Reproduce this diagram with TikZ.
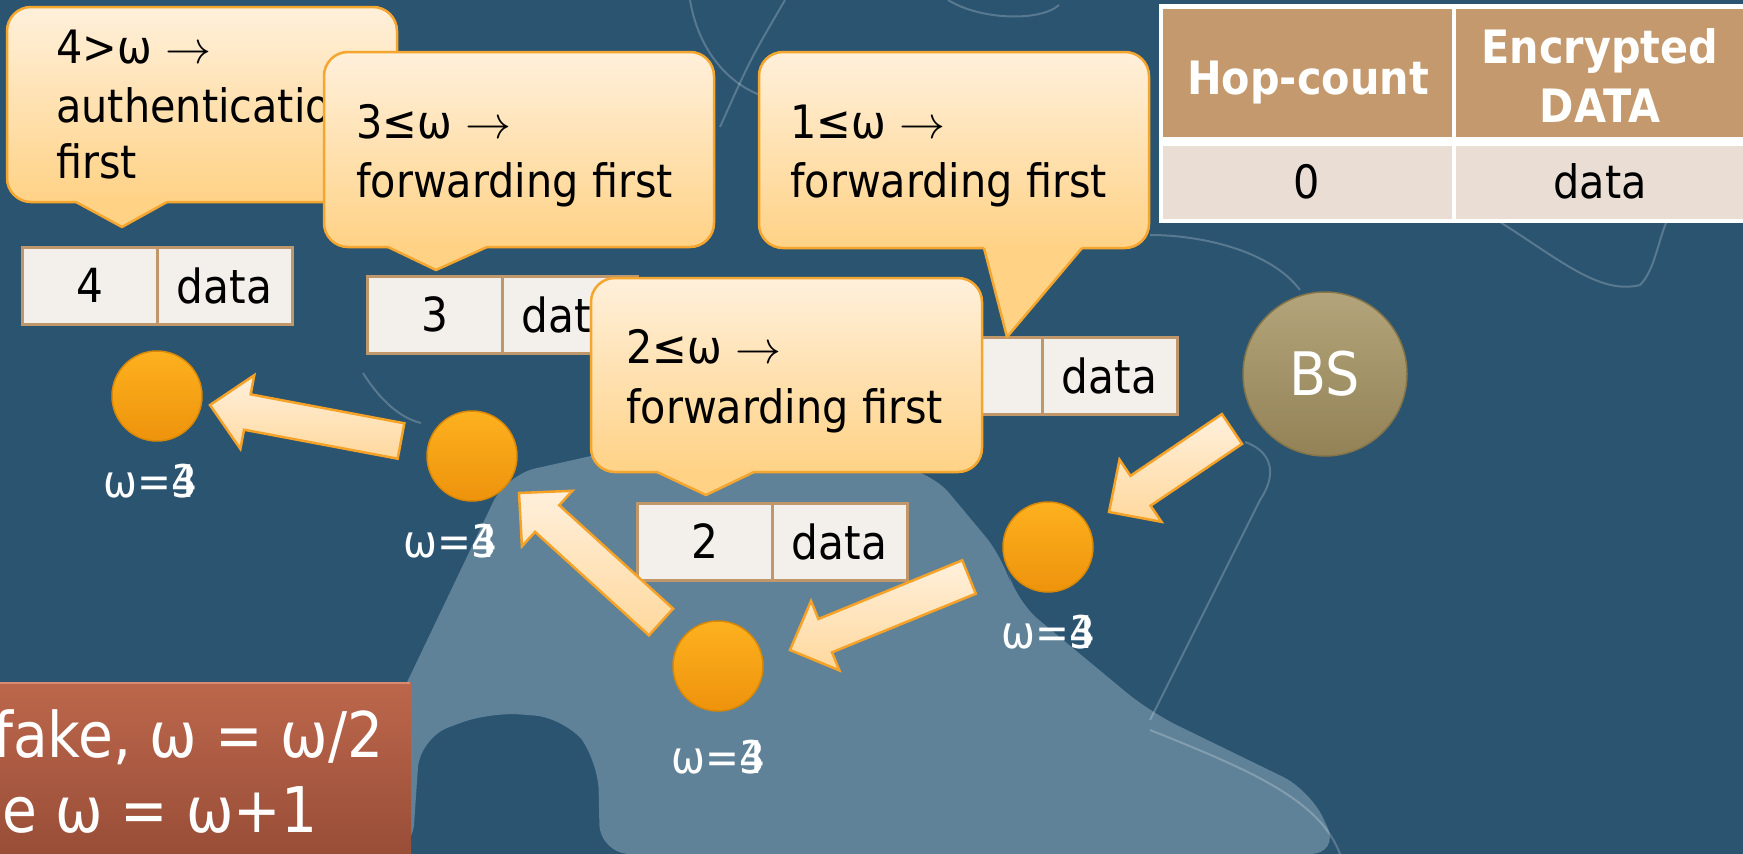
\RequirePackage{fix-cm}
\documentclass[tikz,border=0pt]{standalone}
\usepackage{fontspec}
\setmainfont{DejaVu Sans}[FakeStretch=0.9]
\usetikzlibrary{calc}
\definecolor{bgblue}{HTML}{2A5470}
\definecolor{piece}{HTML}{5F8298}
\definecolor{calltop}{HTML}{FFF0DB}
\definecolor{callbot}{HTML}{FFD286}
\definecolor{callline}{HTML}{F5A62F}
\definecolor{celltan}{HTML}{C0976B}
\definecolor{cellfill}{HTML}{F3EFEB}
\definecolor{headtan}{HTML}{C4996D}
\definecolor{rowfill}{HTML}{EADED4}
\definecolor{orangetop}{HTML}{FDB11F}
\definecolor{orangebot}{HTML}{EE930C}
\definecolor{orangeedge}{HTML}{D98806}
\definecolor{bstop}{HTML}{B3A47B}
\definecolor{bsbot}{HTML}{938256}
\definecolor{bsedge}{HTML}{857549}
\definecolor{redtop}{HTML}{BC674C}
\definecolor{redbot}{HTML}{974C36}
\definecolor{redlight}{HTML}{DA8A70}
\definecolor{arrowtop}{HTML}{FFF0DC}
\definecolor{arrowbot}{HTML}{FFD89D}
\definecolor{arrowline}{HTML}{F5A227}
\tikzset{
  calloutbox/.style={top color=calltop, bottom color=callbot, draw=callline, line width=2.5pt, rounded corners=24pt},
  ctext/.style={anchor=base west, inner sep=0pt, font=\fontsize{46}{55}\selectfont, text=black},
  cell/.style={draw=celltan, line width=3pt, fill=cellfill, minimum width=135pt, minimum height=77pt, inner sep=0pt, outer sep=0pt, anchor=north west, font=\fontsize{47}{56}\selectfont},
  sensor/.style={circle, minimum size=90pt, inner sep=0pt, top color=orangetop, bottom color=orangebot, draw=orangeedge, line width=1.5pt},
  bsnode/.style={circle, minimum size=164pt, inner sep=0pt, top color=bstop, bottom color=bsbot, draw=bsedge, line width=1.5pt, text=white, font=\fontsize{60}{70}\selectfont},
  lbl/.style={text=white, inner sep=0pt, font=\fontsize{45}{54}\selectfont},
  blockarrow/.style={top color=arrowtop, bottom color=arrowbot, draw=arrowline, line width=2.5pt, line join=miter},
  faint/.style={draw=white, draw opacity=0.22, line width=2pt},
  thead/.style={anchor=base, inner sep=0pt, text=white, font=\bfseries\fontsize{46}{55}\selectfont},
  tbody/.style={anchor=base, inner sep=0pt, text=black, font=\fontsize{46}{55}\selectfont},
  redtext/.style={anchor=base west, inner sep=0pt, text=white, font=\fontsize{63}{75}\selectfont},
}
\newcommand\mycallout[8]{%
  \path[calloutbox] (#1,#2) rectangle (#3,#4);
  \fill[callbot] (#5,#4-5) -- (#5,#4) -- (#6,#7) -- (#8,#4) -- (#8,#4-5) -- cycle;
  \draw[callline, line width=2.5pt, line join=round] (#5,#4) -- (#6,#7) -- (#8,#4);
}
\newcommand\blockarr[2]{%
  \coordinate (H) at ($(#2)!38pt!(#1)$);
  \path[blockarrow] ($(#1)!18pt!90:(#2)$) -- ($(H)!18pt!90:(#2)$) -- ($(H)!37.5pt!90:(#2)$) -- (#2)
    -- ($(H)!37.5pt!-90:(#2)$) -- ($(H)!18pt!-90:(#2)$) -- ($(#1)!18pt!-90:(#2)$) -- cycle;
}
\begin{document}
\begin{tikzpicture}[x=1pt,y=-1pt]
\useasboundingbox (0,0) rectangle (1743,854);
\clip (0,0) rectangle (1743,854);
% background
\fill[bgblue] (0,0) rectangle (1743,854);
\fill[piece, rounded corners=30pt] (325,854) -- (506,475) -- (640,445) -- (930,470) -- (1005,560)
  -- (1015,600) -- (1150,712) -- (1310,790) -- (1340,854) -- (600,854) -- (598,760) -- (565,718)
  -- (490,712) -- (420,738) -- (412,854) -- cycle;
\draw[faint] (720,127) .. controls (750,60) .. (785,0);
\draw[faint] (948,0) .. controls (980,20) and (1040,22) .. (1059,5);
\draw[faint] (690,0) .. controls (700,60) and (740,95) .. (780,100);
\draw[faint] (1500,222) .. controls (1560,260) and (1600,295) .. (1640,285) .. controls (1655,270) and (1658,240) .. (1668,218);
\draw[faint] (1150,235) .. controls (1200,235) and (1270,250) .. (1300,290);
\draw[faint] (1245,442) .. controls (1268,450) and (1280,470) .. (1260,500) -- (1150,720);
\draw[faint] (1150,730) .. controls (1250,770) and (1320,800) .. (1340,854);
\draw[faint] (363,373) .. controls (380,400) and (400,418) .. (421,423);
% packets
\node[cell] (p4n) at (22,247) {4};
\node[cell] (p4d) at (157,247) {data};
\node[cell] (p3n) at (367,276) {3};
\node[cell] (p3d) at (502,276) {data};
\node[cell] (p1n) at (907,337) {};
\node[cell] (p1d) at (1042,337) {data};
\node[cell] (p2n) at (637,503) {2};
\node[cell] (p2d) at (772,503) {data};
% callouts
\mycallout{7}{7}{397}{202}{76}{122}{227}{167}
\node[ctext] (cA1) at (56,63) {4>ω $\rightarrow$};
\node[ctext] (cA2) at (56,122) {authentication};
\node[ctext] (cA3) at (56,178) {first};
\mycallout{324}{52}{714}{247}{388}{436}{270}{487}
\node[ctext] (cB1) at (356,138) {3≤ω $\rightarrow$};
\node[ctext] (cB2) at (356,197) {forwarding first};
\mycallout{759}{52}{1149}{248}{984}{1007}{337}{1082}
\node[ctext] (cC1) at (790,138) {1≤ω $\rightarrow$};
\node[ctext] (cC2) at (790,197) {forwarding first};
\mycallout{591}{278}{982}{472}{657}{706}{495}{754}
\node[ctext] (cD1) at (626,363) {2≤ω $\rightarrow$};
\node[ctext] (cD2) at (626,423) {forwarding first};
% nodes
\node[sensor] (N4) at (157,396) {};
\node[sensor] (N3) at (472,456) {};
\node[sensor] (N2) at (718,666) {};
\node[sensor] (N1) at (1048,547) {};
\node[bsnode] (BS) at (1325,374) {BS};
% arrows
\coordinate (a1s) at ($(BS)+(-93,55)$);
\coordinate (a1e) at ($(N1)+(61,-35)$);
\coordinate (a2s) at ($(N1)+(-79,30)$);
\coordinate (a2e) at ($(N2)+(72,-16)$);
\coordinate (a3s) at ($(N2)+(-57,-44)$);
\coordinate (a3e) at ($(N3)+(47,37)$);
\coordinate (a4s) at ($(N3)+(-71,-15)$);
\coordinate (a4e) at ($(N4)+(53,9)$);
\blockarr{a1s}{a1e}
\blockarr{a2s}{a2e}
\blockarr{a3s}{a3e}
\blockarr{a4s}{a4e}
% labels
\node[lbl] (L4) at (150,481) {ω=\rlap{3}4};
\node[lbl] (L3) at (450,541) {ω=\rlap{3}4};
\node[lbl] (L2) at (718,757) {ω=\rlap{3}4};
\node[lbl] (L1) at (1048,632) {ω=\rlap{3}4};
% table
\fill[white] (1159,4) rectangle (1750,223);
\fill[headtan] (1163,9) rectangle (1452,137);
\fill[headtan] (1456,9) rectangle (1750,137);
\fill[rowfill] (1163,146) rectangle (1452,219);
\fill[rowfill] (1456,146) rectangle (1750,219);
\node[thead] (th1) at (1308,94) {Hop-count};
\node[thead] (th2a) at (1600,63) {Encrypted};
\node[thead] (th2b) at (1600,122) {DATA};
\node[tbody] (tb1) at (1307,198) {0};
\node[tbody] (tb2) at (1600,198) {data};
% red box
\shade[top color=redtop, bottom color=redbot] (-10,682) rectangle (411,864);
\draw[redlight, line width=2pt] (-10,683) -- (410,683);
\node[redtext] (r1) at (-7,757) {fake, ω = ω/2};
\node[redtext] (r2) at (2,832) {e ω = ω+1};
\end{tikzpicture}
\end{document}
